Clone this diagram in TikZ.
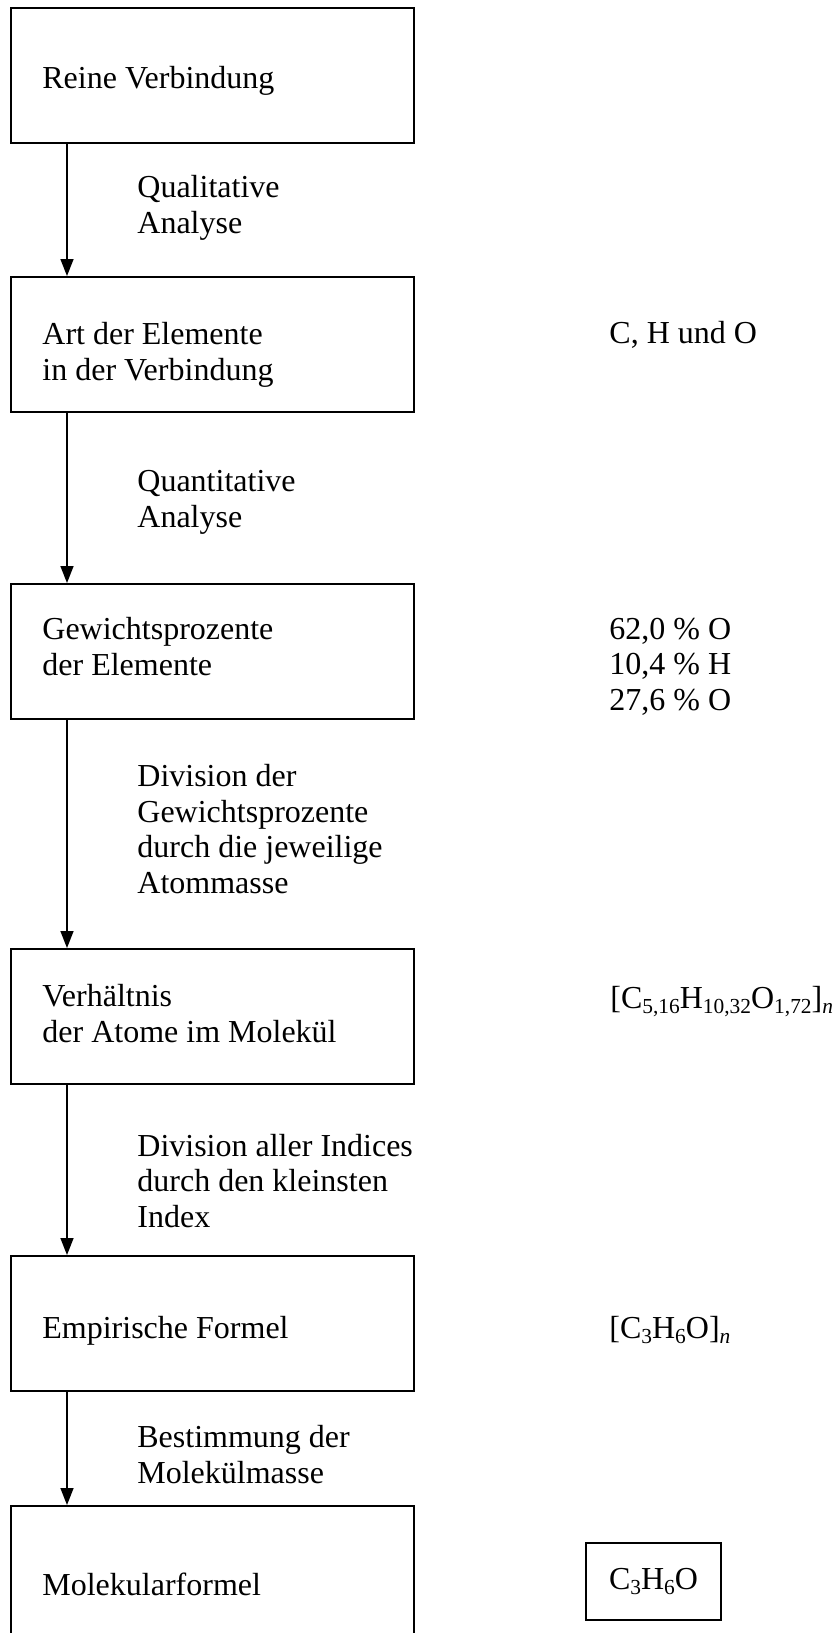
\documentclass[tikz,border=0pt]{standalone}
\usepackage{fontspec}
\setmainfont{Liberation Serif}
\usetikzlibrary{arrows.meta,calc}

\newcommand\subx[1]{\raisebox{-2.5pt}{\fontsize{10.7}{12}\selectfont #1}}

\begin{document}
\begin{tikzpicture}[x=0.5pt,y=-0.5pt,
    stage/.style={draw, line width=1.1pt, minimum width=201.5pt,
      minimum height=67.5pt, anchor=north west, inner sep=0pt},
    txt/.style={anchor=base west, inner sep=0pt, align=left,
      font=\fontsize{16}{17.75}\selectfont},
    flow/.style={->, line width=0.8pt},
    >={Triangle[width=6.5pt,length=8.5pt]}]

  \useasboundingbox (0,0) rectangle (837,1633);

  % steps on the left
  \node[stage] (A) at (10,7) {};
  \node[stage] (B) at (10,276) {};
  \node[stage] (C) at (10,583) {};
  \node[stage] (D) at (10,948) {};
  \node[stage] (E) at (10,1255) {};
  \node[stage] (F) at (10,1505) {};

  % (multi-line texts sit on their last line)
  \node[txt] (At) at (42,88) {Reine Verbindung};
  \node[txt] (Bt) at (42,380) {Art der Elemente\\in der Verbindung};
  \node[txt] (Ct) at (42,675) {Gewichtsprozente\\der Elemente};
  \node[txt] (Dt) at (42,1042) {Verhältnis\\der Atome im Molekül};
  \node[txt] (Et) at (42,1338) {Empirische Formel};
  \node[txt] (Ft) at (42,1595) {Molekularformel};

  % what happens between them
  \node[txt] (ab) at (137,233) {Qualitative\\Analyse};
  \node[txt] (bc) at (137,527) {Quantitative\\Analyse};
  \node[txt] (cd) at (137,893) {Division der\\Gewichtsprozente\\durch die jeweilige\\Atommasse};
  \node[txt] (de) at (137,1227) {Division aller Indices\\durch den kleinsten\\Index};
  \node[txt] (ef) at (137,1483) {Bestimmung der\\Molekülmasse};

  % results on the right
  \node[txt] (Br) at (609,343) {C, H und O};
  \node[txt] (Cr) at (609,710) {62,0 \% O\\10,4 \% H\\27,6 \% O};
  \node[txt] (Dr) at (610,1008)
    {[C\subx{5,16}H\subx{10,32}O\subx{1,72}]\subx{\textit{n}}};
  \node[txt] (Er) at (609,1338) {[C\subx{3}H\subx{6}O]\subx{\textit{n}}};
  \node[draw, line width=0.9pt, minimum width=67.5pt, minimum height=38.5pt,
    inner sep=0pt, font=\fontsize{16}{17.75}\selectfont] (Fr) at (653.5,1581.5)
    {C\subx{3}H\subx{6}O};

  \draw[flow] ($(A.south west)+(57,0)$) -- ($(B.north west)+(57,0)$);
  \draw[flow] ($(B.south west)+(57,0)$) -- ($(C.north west)+(57,0)$);
  \draw[flow] ($(C.south west)+(57,0)$) -- ($(D.north west)+(57,0)$);
  \draw[flow] ($(D.south west)+(57,0)$) -- ($(E.north west)+(57,0)$);
  \draw[flow] ($(E.south west)+(57,0)$) -- ($(F.north west)+(57,0)$);
\end{tikzpicture}
\end{document}
